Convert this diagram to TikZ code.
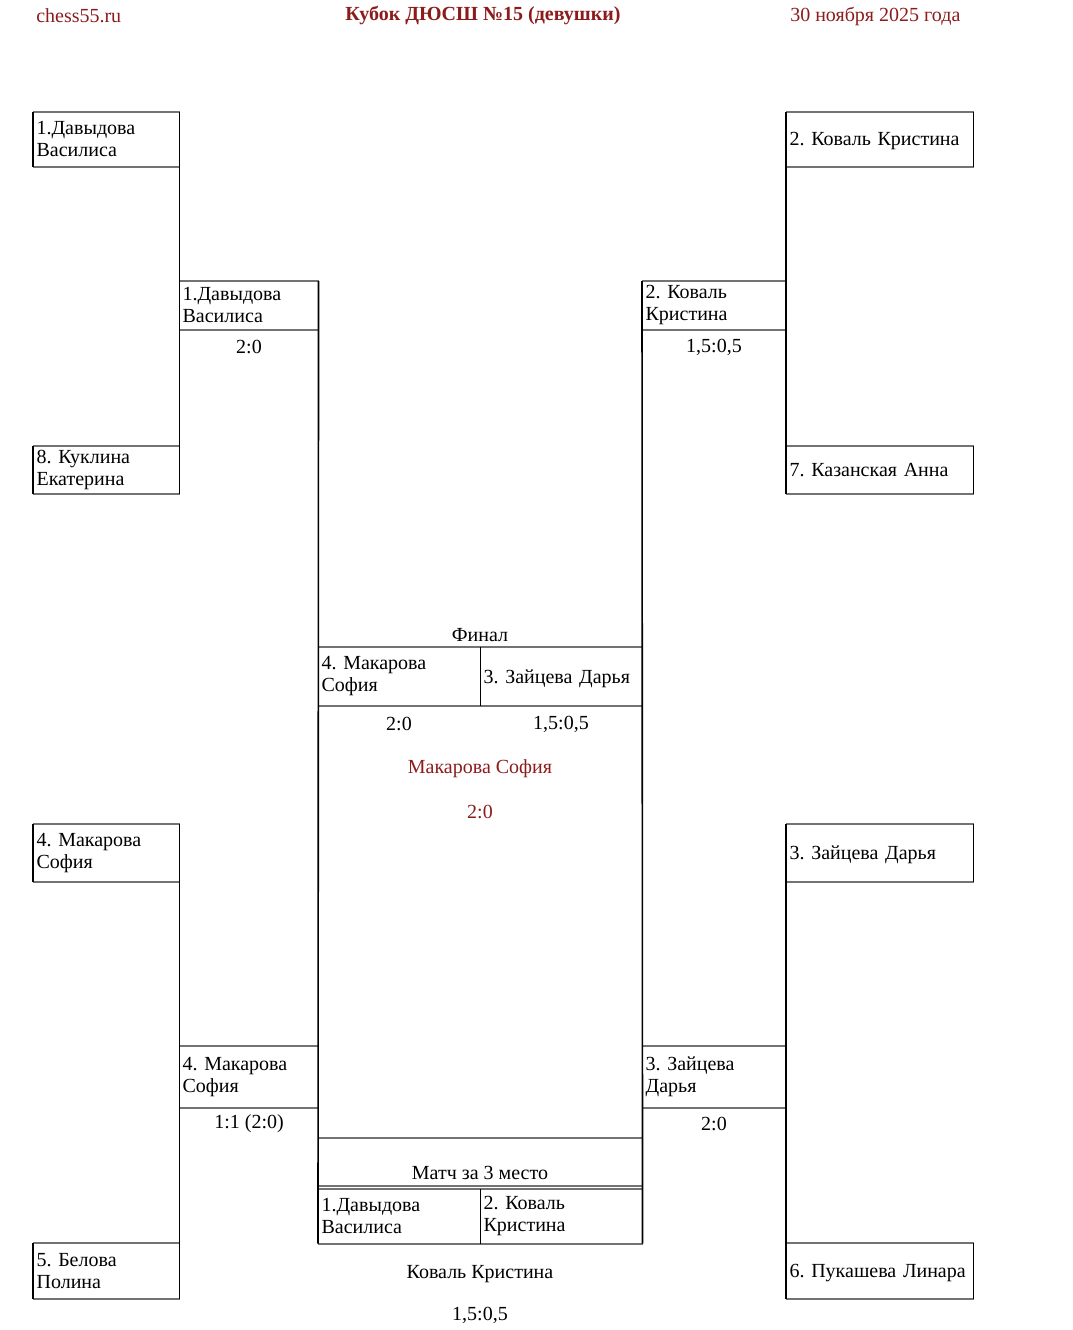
\documentclass[tikz,border=0pt]{standalone}
\usepackage{fontspec}
\setmainfont{Liberation Serif}
\frenchspacing
\definecolor{cupred}{RGB}{140,28,28}
\begin{document}
\begin{tikzpicture}[x=0.75pt,y=-0.75pt,
        txt/.style={inner sep=0pt,font=\fontsize{15}{16.5}\selectfont},
        box/.style={txt,rectangle,anchor=north west,inner xsep=2.5pt,align=left},
        lbox/.style={box,minimum width=109.5pt,text width=104.5pt},
        rbox/.style={box,minimum width=140.25pt,text width=135.25pt,text depth=0pt},
        slbox/.style={box,minimum width=104.25pt,text width=99.25pt},
        srbox/.style={box,minimum width=108pt,text width=103pt},
        halfbox/.style={box,minimum width=121.5pt,text width=116.5pt},
        score/.style={txt,yshift=-1.5pt},
        hline/.style={line width=1.5pt,black!55},
        vline/.style={line width=1.2pt,black}]
    \useasboundingbox (0,0) rectangle (1072,1330);
    %% header
    \node[score,anchor=west,text=cupred] (site) at (36,14) {chess55.ru};
    \node[score,text=cupred,font=\fontsize{15}{17}\selectfont\bfseries] (title) at (483,14) {Кубок ДЮСШ №15 (девушки)};
    \node[score,anchor=west,text=cupred] (date) at (790,14) {30 ноября 2025 года};
    %% left half
    \node[lbox,minimum height=40.5pt] (L1) at (33,112) {1.Давыдова\\Василиса};
    \node[lbox,minimum height=35.25pt] (L8) at (33,446) {8. Куклина\\Екатерина};
    \node[lbox,minimum height=42.75pt] (L4) at (33,824) {4. Макарова\\София};
    \node[lbox,minimum height=41.25pt] (L5) at (33,1243) {5. Белова\\Полина};
    \node[slbox,minimum height=36pt] (SL1) at (179,281) {1.Давыдова\\Василиса};
    \node[slbox,minimum height=45.75pt] (SL4) at (179,1046) {4. Макарова\\София};
    \node[score] (sSL1) at (249,345) {2:0};
    \node[score] (sSL4) at (249,1122) {1:1 (2:0)};
    %% right half
    \node[rbox,minimum height=40.5pt] (R2) at (786,112) {2. Коваль Кристина};
    \node[rbox,minimum height=35.25pt] (R7) at (786,446) {7. Казанская Анна};
    \node[rbox,minimum height=42.75pt] (R3) at (786,824) {3. Зайцева Дарья};
    \node[rbox,minimum height=41.25pt] (R6) at (786,1243) {6. Пукашева Линара};
    \node[srbox,minimum height=36pt] (SR2) at (642,281) {2. Коваль\\Кристина};
    \node[srbox,minimum height=45.75pt] (SR3) at (642,1046) {3. Зайцева\\Дарья};
    \node[score] (sSR2) at (714,345) {1,5:0,5};
    \node[score] (sSR3) at (714,1122) {2:0};
    %% final
    \node[score] (fin) at (480,633) {Финал};
    \node[halfbox,minimum height=43.5pt] (FL) at (318,647) {4. Макарова\\София};
    \node[halfbox,minimum height=43.5pt,text depth=0pt] (FR) at (480,647) {3. Зайцева Дарья};
    \node[score] (sFL) at (399,722) {2:0};
    \node[score] (sFR) at (561,722) {1,5:0,5};
    \node[score,text=cupred] (champ) at (480,767) {Макарова София};
    \node[score,text=cupred] (sChamp) at (480,810) {2:0};
    %% match for third place
    \node[box,minimum width=243pt,minimum height=35.25pt] (TH) at (318,1138) {};
    \node[score] (thr) at (480,1171) {Матч за 3 место};
    \node[halfbox,minimum height=40.5pt] (TL) at (318,1189) {1.Давыдова\\Василиса};
    \node[halfbox,minimum height=40.5pt] (TR) at (480,1189) {2. Коваль\\Кристина};
    \node[score] (third) at (480,1272) {Коваль Кристина};
    \node[score] (sThird) at (480,1313) {1,5:0,5};
    %% box edges
    \foreach \n in {L1,L8,L4,L5,SL1,SL4,R2,R7,R3,R6,SR2,SR3,FL,FR,TH,TL,TR}
        \draw[hline] (\n.north west) -- (\n.north east) (\n.south west) -- (\n.south east);
    \foreach \n in {L1,L8,L4,L5}
        \draw[vline] (\n.north west) -- (\n.south west);
    \foreach \n in {R2,R7,R3,R6}
        \draw[vline] (\n.north east) -- (\n.south east);
    %% bracket lines
    \draw[vline] (L1.north east) -- (L8.south east);
    \draw[vline] (L4.north east) -- (L5.south east);
    \draw[vline] (R2.north west) -- (R7.south west);
    \draw[vline] (R3.north west) -- (R6.south west);
    \draw[vline] (SL1.north east) -- (TL.south west);
    \draw[vline] (SR2.north west) -- (TR.south east);
    \draw[vline] (FL.north east) -- (FL.south east);
    \draw[vline] (TL.north east) -- (TL.south east);
\end{tikzpicture}
\end{document}
